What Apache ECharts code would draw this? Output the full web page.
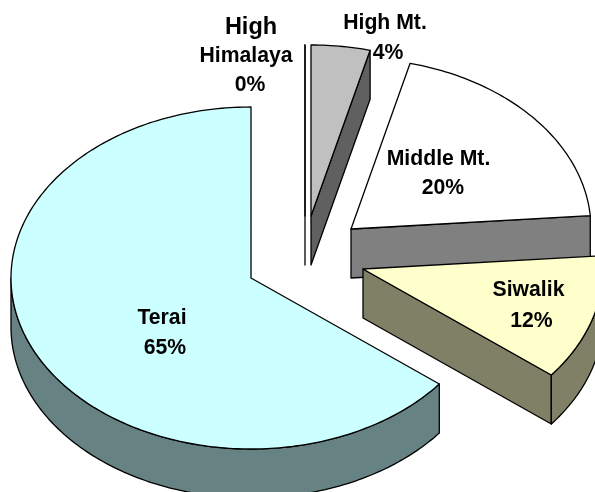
<!DOCTYPE html>
<html>
<head>
<meta charset="utf-8">
<style>html,body{margin:0;padding:0;background:#fff}#chart{width:595px;height:492px}</style>
<script src="https://cdn.jsdelivr.net/npm/echarts@6/dist/echarts.min.js"></script>
</head>
<body>
<div id="chart"></div>
<script>
// Share of area by physiographic region, in percent
var regions = ['High Himalaya', 'High Mt.', 'Middle Mt.', 'Siwalik', 'Terai'];
var shares = [0, 4, 20, 12, 65];

// Slice appearance
var topColors = ['#ffffff', '#c0c0c0', '#ffffff', '#ffffcc', '#ccffff'];
var sideColors = ['#808080', '#606060', '#808080', '#808066', '#668282'];

// Pie projection: centre, ellipse radii, wall height (px)
var centre = [251, 278];
var radiusX = 240;
var radiusY = 171;
var wallHeight = 49;
var startAngle = 0;

// How far each slice is pulled away from the centre (px)
var pullX = [54, 60, 100, 112, 0];
var pullY = [-62, -62, -49, -9, 0];

// Label lines per slice: text parts and their placement
var labelLines = [
  ['High', 'Himalaya'], ['High Mt.'], ['Middle Mt.'], ['Siwalik'], ['Terai']
];
var labelX = [[251, 246, 250], [385, 388], [438.5, 443], [528.5, 531.5], [162, 165]];
var labelY = [[28, 56, 85], [23, 53], [159, 188], [290, 321], [318, 348]];
var labelSize = [[23.5, 21.2, 21.2], [21.2, 21.2], [21.2, 21.2], [21.2, 21.2], [21.2, 21.2]];

var total = shares.reduce(function (a, b) { return a + b; }, 0);

function rimPoint(cx, cy, deg) {
  var r = deg * Math.PI / 180;
  return [cx + radiusX * Math.sin(r), cy - radiusY * Math.cos(r)];
}

function arc(cx, cy, from, to) {
  var pts = [];
  var n = Math.max(1, Math.ceil(Math.abs(to - from)));
  for (var i = 0; i <= n; i++) pts.push(rimPoint(cx, cy, from + (to - from) * i / n));
  return pts;
}

function shifted(pts) {
  return pts.map(function (p) { return [p[0], p[1] + wallHeight]; }).reverse();
}

function outline(points, fill) {
  return {
    type: 'polygon',
    shape: { points: points },
    style: { fill: fill, stroke: '#000', lineWidth: 1.3, lineJoin: 'round' }
  };
}

function renderSlice(params, api) {
  var i = params.dataIndex;
  var before = 0;
  for (var k = 0; k < i; k++) before += shares[k];
  var from = startAngle + before / total * 360;
  var to = from + api.value(0) / total * 360;
  var cx = centre[0] + pullX[i];
  var cy = centre[1] + pullY[i];
  var apex = [cx, cy];
  var children = [];

  // Cut face on the clockwise side faces the viewer in the right half
  if (to < 180) {
    var cut = [apex, rimPoint(cx, cy, to)];
    children.push(outline(cut.concat(shifted(cut)), sideColors[i]));
  }
  // Outer wall: only the part on the near side of the ellipse
  var a = Math.max(from, 90), b = Math.min(to, 270);
  if (b > a) {
    var rim = arc(cx, cy, a, b);
    children.push(outline(rim.concat(shifted(rim)), sideColors[i]));
  }
  // Top face
  children.push(outline([apex].concat(arc(cx, cy, from, to)), topColors[i]));

  // Label: region name lines followed by the percentage
  labelLines[i].concat([api.value(0) + '%']).forEach(function (line, n) {
    children.push({
      type: 'text',
      z2: 10,
      style: {
        text: line,
        x: labelX[i][n],
        y: labelY[i][n],
        align: 'center',
        verticalAlign: 'middle',
        fill: '#000',
        font: 'bold ' + labelSize[i][n] + 'px "Liberation Sans", Arial, sans-serif'
      }
    });
  });
  return { type: 'group', children: children };
}

var chart = echarts.init(document.getElementById('chart'), null, { renderer: 'canvas' });
chart.setOption({
  animation: false,
  backgroundColor: '#ffffff',
  series: [{
    type: 'custom',
    coordinateSystem: 'none',
    renderItem: renderSlice,
    data: regions.map(function (name, i) { return { name: name, value: [shares[i]] }; }),
    silent: true
  }]
});
</script>
</body>
</html>
